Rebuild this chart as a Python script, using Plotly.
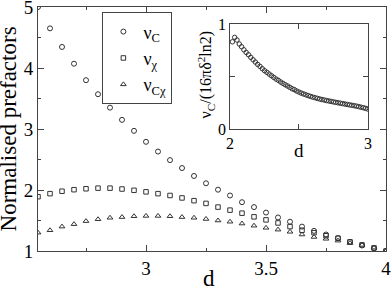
import plotly.graph_objects as go

# ---- main panel data ----
d_main = [2.55, 2.60, 2.65, 2.70, 2.75, 2.80, 2.85, 2.90, 2.95, 3.00,
          3.05, 3.10, 3.15, 3.20, 3.25, 3.30, 3.35, 3.40, 3.45, 3.50,
          3.55, 3.60, 3.65, 3.70, 3.75, 3.80, 3.85, 3.90, 3.95, 4.00]
nu_c = [5.00, 4.65, 4.345, 4.07, 3.80, 3.57, 3.35, 3.15, 2.97, 2.79,
        2.63, 2.49, 2.36, 2.23, 2.11, 2.005, 1.91, 1.80, 1.72, 1.63,
        1.55, 1.48, 1.40, 1.33, 1.27, 1.21, 1.15, 1.09, 1.045, 1.00]
nu_chi = [1.89, 1.94, 1.98, 2.005, 2.02, 2.03, 2.03, 2.016, 1.995, 1.97,
          1.94, 1.91, 1.87, 1.825, 1.78, 1.72, 1.67, 1.62, 1.56, 1.51,
          1.46, 1.40, 1.34, 1.30, 1.25, 1.21, 1.15, 1.10, 1.05, 1.00]
nu_cchi = [1.30, 1.34, 1.40, 1.44, 1.49, 1.52, 1.545, 1.556, 1.57, 1.575,
           1.575, 1.57, 1.556, 1.545, 1.525, 1.50, 1.48, 1.45, 1.415, 1.38,
           1.35, 1.315, 1.27, 1.23, 1.20, 1.17, 1.13, 1.10, 1.055, 1.00]

# ---- inset data ----
d_inset = [2 + k / 60 for k in range(1, 61)]
ratio_inset = [0.831, 0.873, 0.848, 0.810, 0.784, 0.755, 0.730, 0.708, 0.683, 0.660,
               0.638, 0.616, 0.597, 0.575, 0.556, 0.540, 0.524, 0.508, 0.492, 0.476,
               0.464, 0.448, 0.435, 0.422, 0.410, 0.397, 0.384, 0.375, 0.362, 0.352,
               0.342, 0.334, 0.326, 0.318, 0.311, 0.304, 0.298, 0.292, 0.286, 0.281,
               0.276, 0.271, 0.267, 0.263, 0.258, 0.254, 0.250, 0.246, 0.242, 0.238,
               0.234, 0.230, 0.226, 0.222, 0.218, 0.213, 0.208, 0.203, 0.197, 0.190]

FONT = "Liberation Serif"
MC = "#333333"
AX = "#444444"

fig = go.Figure()
fig.add_trace(go.Scatter(x=d_main, y=nu_c, mode="markers", name="ν<sub>C</sub>",
                         marker=dict(symbol="circle-open", size=5, color=MC, line=dict(width=1))))
fig.add_trace(go.Scatter(x=d_main, y=nu_chi, mode="markers", name="ν<sub>χ</sub>",
                         marker=dict(symbol="square-open", size=4.5, color=MC, line=dict(width=1))))
fig.add_trace(go.Scatter(x=d_main, y=nu_cchi, mode="markers", name="ν<sub>Cχ</sub>",
                         marker=dict(symbol="triangle-up-open", size=5, color=MC, line=dict(width=1))))
fig.add_trace(go.Scatter(x=d_inset, y=ratio_inset, mode="markers", showlegend=False,
                         xaxis="x2", yaxis="y2",
                         marker=dict(symbol="circle-open", size=4.5, color=MC, line=dict(width=1))))

axis_common = dict(showgrid=False, zeroline=False, showline=True, linecolor=AX, linewidth=1,
                   mirror="allticks", ticks="inside", tickcolor=AX, automargin=False,
                   ticklabeloverflow="allow",
                   tickfont=dict(family=FONT, size=19, color="black"))
inset_common = dict(showgrid=False, zeroline=False, showline=True, linecolor=AX, linewidth=1,
                    mirror="allticks", ticks="inside", tickcolor=AX, automargin=False,
                    ticklabeloverflow="allow",
                    tickfont=dict(family=FONT, size=16, color="black"))

fig.update_layout(
    template="none",
    width=392, height=290,
    margin=dict(l=38, r=6, t=7, b=39, autoexpand=False),
    paper_bgcolor="white", plot_bgcolor="white",
    font=dict(family=FONT, color="black"),
    hovermode=False,
    xaxis=dict(range=[2.55, 4.0], dtick=0.5, tick0=3, ticklen=6,
               minor=dict(dtick=0.25, tick0=2.75, ticklen=3, ticks="inside", tickcolor=AX),
               **axis_common),
    yaxis=dict(range=[1, 5], dtick=1, ticklen=6,
               minor=dict(dtick=0.5, ticklen=3, ticks="inside", tickcolor=AX),
               **axis_common),
    xaxis2=dict(domain=[0.552, 0.948], anchor="y2", range=[2, 3],
                tickvals=[2, 3], ticklen=5,
                minor=dict(tickvals=[2.5], ticklen=5, ticks="inside", tickcolor=AX),
                **inset_common),
    yaxis2=dict(domain=[0.5, 0.93], anchor="x2", range=[0, 1],
                tickvals=[0, 1], ticklen=5,
                minor=dict(tickvals=[0.5], ticklen=5, ticks="inside", tickcolor=AX),
                **inset_common),
    legend=dict(x=0.185, y=0.978, xanchor="left", yanchor="top",
                bordercolor=AX, borderwidth=1, bgcolor="white",
                font=dict(family=FONT, size=18, color="black"),
                tracegroupgap=0, itemwidth=30),
    showlegend=True,
    annotations=[
        dict(text="Normalised prefactors", xref="paper", yref="paper", x=-0.085, y=0.5,
             textangle=-90, showarrow=False, xanchor="center", yanchor="middle",
             font=dict(family=FONT, size=23, color="black")),
        dict(text="d", xref="paper", yref="paper", x=0.49, y=-0.055,
             showarrow=False, xanchor="center", yanchor="top",
             font=dict(family=FONT, size=23, color="black")),
        dict(text="d", xref="paper", yref="paper", x=0.75, y=0.465,
             showarrow=False, xanchor="center", yanchor="top",
             font=dict(family=FONT, size=19, color="black")),
        dict(text="ν<sub>C</sub>/(16πδ<sup>2</sup>ln2)", xref="paper", yref="paper",
             x=0.483, y=0.72, textangle=-90, showarrow=False,
             xanchor="center", yanchor="middle",
             font=dict(family=FONT, size=16, color="black")),
    ],
)

fig.write_html("out.html", config={"displayModeBar": False, "staticPlot": True},
               post_script="document.body.style.margin='0px';document.body.style.overflow='hidden';")
